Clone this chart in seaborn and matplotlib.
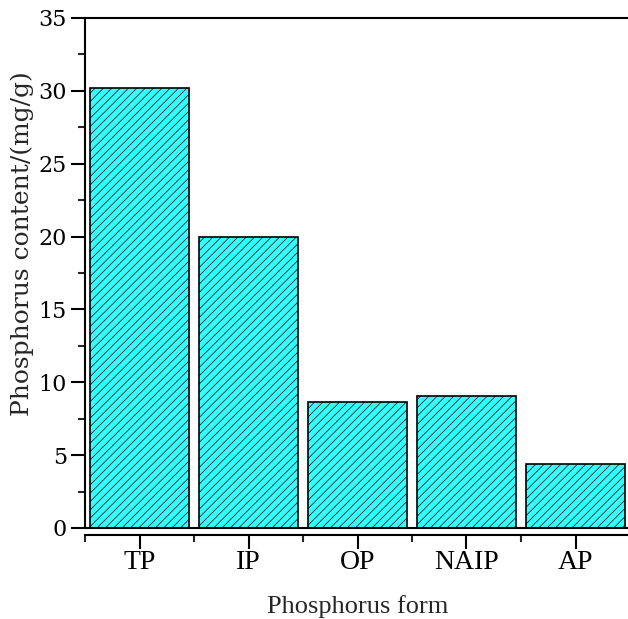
import matplotlib
matplotlib.use("Agg")
import matplotlib.pyplot as plt
import seaborn as sns
import pandas as pd
from matplotlib.ticker import MultipleLocator, FixedLocator

# Data
forms = ["TP", "IP", "OP", "NAIP", "AP"]
content = [30.2, 20.0, 8.65, 9.05, 4.4]

df = pd.DataFrame({"form": forms, "content": content})

sns.set_style("ticks")
plt.rcParams["font.family"] = ["Liberation Serif", "DejaVu Serif"]
plt.rcParams["hatch.linewidth"] = 0.5
plt.rcParams["hatch.color"] = "black"

fig = plt.figure(figsize=(6.28, 6.19), dpi=100)
ax = fig.add_axes([85 / 628, 1 - 528 / 619, (630 - 85) / 628, (528 - 18) / 619])

sns.barplot(
    data=df, x="form", y="content", order=forms,
    color="#33FFFF", saturation=1, width=0.9,
    edgecolor="black", linewidth=1.2, hatch="////", ax=ax
)

ax.set_xlim(-0.5, 4.5)
ax.set_ylim(0, 35)
ax.axhline(0, color="black", lw=1.5, zorder=5, clip_on=False)

ax.spines["right"].set_visible(False)
ax.spines["bottom"].set_position(("outward", 5))
for s in ["left", "top", "bottom"]:
    ax.spines[s].set_linewidth(1.5)
    ax.spines[s].set_color("black")

ax.yaxis.set_major_locator(MultipleLocator(5))
ax.yaxis.set_minor_locator(MultipleLocator(2.5))
ax.xaxis.set_minor_locator(FixedLocator([-0.5, 0.5, 1.5, 2.5, 3.5]))

ax.tick_params(axis="both", which="major", direction="out", length=10, width=1.5,
               colors="black")
ax.tick_params(axis="both", which="minor", direction="out", length=5, width=1.5)
ax.tick_params(axis="x", which="major", pad=1, labelsize=20)
ax.tick_params(axis="y", which="major", pad=3)
for lab in ax.get_yticklabels():
    lab.set_fontfamily("DejaVu Serif")
    lab.set_fontsize(16)

ax.set_xlabel("Phosphorus form", fontsize=19, labelpad=14)
ax.set_ylabel("Phosphorus content/(mg/g)", fontsize=18,
              fontfamily="DejaVu Serif")
ax.yaxis.set_label_coords(-0.094, 0.557)

fig.savefig("out.png", dpi=100)
